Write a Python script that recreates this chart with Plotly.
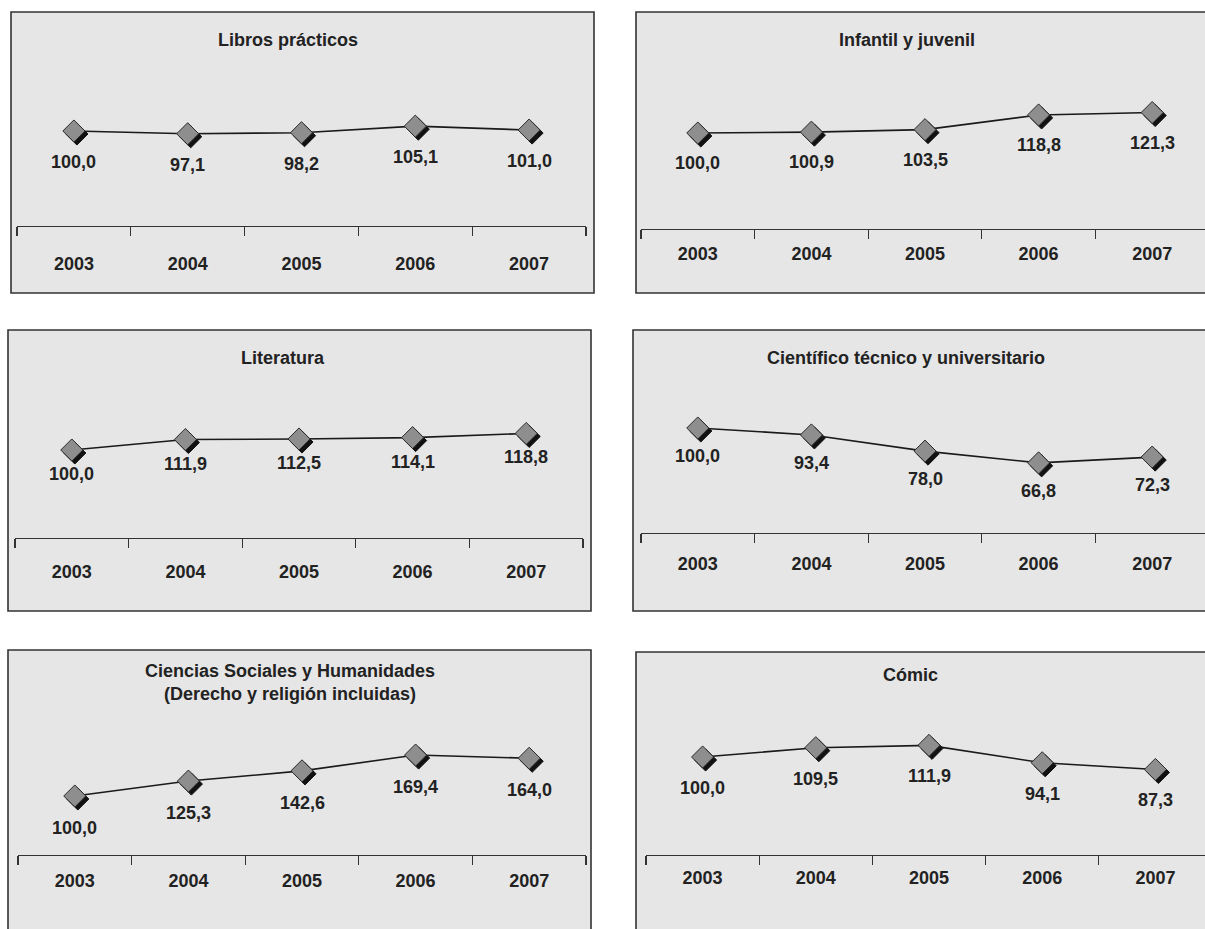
import plotly.graph_objects as go

# ---------------- data ----------------
years = ["2003", "2004", "2005", "2006", "2007"]
titles = [
    "Libros prácticos",
    "Infantil y juvenil",
    "Literatura",
    "Científico técnico y universitario",
    "Ciencias Sociales y Humanidades<br>(Derecho y religión incluidas)",
    "Cómic",
]
libros_practicos = [100.0, 97.1, 98.2, 105.1, 101.0]
infantil_juvenil = [100.0, 100.9, 103.5, 118.8, 121.3]
literatura = [100.0, 111.9, 112.5, 114.1, 118.8]
cientifico_tecnico = [100.0, 93.4, 78.0, 66.8, 72.3]
ciencias_sociales = [100.0, 125.3, 142.6, 169.4, 164.0]
comic = [100.0, 109.5, 111.9, 94.1, 87.3]
series = [libros_practicos, infantil_juvenil, literatura,
          cientifico_tecnico, ciencias_sociales, comic]

# ---------------- layout constants (page pixels) ----------------
W, H = 1205, 929
FONT = "Liberation Sans, Arial, Helvetica, sans-serif"
TXT = "#222222"
FS = 18
panels = [
    dict(box=(11, 12, 594, 293), xspan=(17, 586), base=226, ppu=0.95, ymax=160, title=(288, 40), std=21, lab=31),
    dict(box=(636, 12, 1230, 293), xspan=(641, 1209), base=229, ppu=0.96, ymax=160, title=(907, 40), std=8, lab=30),
    dict(box=(8, 330, 591, 611), xspan=(15, 583), base=538, ppu=0.88, ymax=160, title=(283, 358), std=17, lab=24),
    dict(box=(633, 330, 1230, 611), xspan=(641, 1209), base=533, ppu=1.05, ymax=120, title=(906, 358), std=14, lab=28),
    dict(box=(8, 650, 591, 950), xspan=(18, 586), base=855, ppu=0.59, ymax=200, title=(290, 682), std=9, lab=32),
    dict(box=(636, 652, 1230, 950), xspan=(646, 1212), base=855, ppu=0.98, ymax=140, title=(910, 675), std=6, lab=31),
]
SHADOW = (3, 3)


def fx(px):
    return px / W


def fy(py):
    return 1 - py / H


def aname(kind, n):
    return f"{kind}axis" if n == 1 else f"{kind}axis{n}"


def aref(kind, n):
    return kind if n == 1 else f"{kind}{n}"


hidden = dict(showline=False, showticklabels=False, showgrid=False,
              zeroline=False, ticks="", fixedrange=True)

fig = go.Figure()
layout = dict(
    width=W, height=H,
    margin=dict(l=0, r=0, t=0, b=0),
    paper_bgcolor="white",
    plot_bgcolor="rgba(0,0,0,0)",
    showlegend=False,
    shapes=[], annotations=[],
    font=dict(family=FONT, color=TXT),
)

for i, (p, vals, title) in enumerate(zip(panels, series, titles)):
    b = 2 * i + 1   # base axes: shadow markers (shifted)
    o = 2 * i + 2   # overlay axes: true mapping
    x0, x1 = p["xspan"]
    pxc = (x1 - x0) / len(years)
    xr1 = min(x1, W)
    dom_x = [fx(x0), fx(xr1)]
    ymax = p["ymax"]
    ytop = p["base"] - ymax * p["ppu"]
    dom_y = [fy(p["base"]), fy(ytop)]
    xr_true = [-0.5, -0.5 + (xr1 - x0) / pxc]
    yr_true = [0, ymax]
    dx, dy = SHADOW
    xr_sh = [xr_true[0] - dx / pxc, xr_true[1] - dx / pxc]
    yr_sh = [dy / p["ppu"], ymax + dy / p["ppu"]]

    # panel box
    bx0, by0, bx1, by1 = p["box"]
    layout["shapes"].append(dict(
        type="rect", xref="paper", yref="paper",
        x0=fx(bx0), x1=fx(bx1), y0=fy(by1), y1=fy(by0),
        fillcolor="#e6e6e6", line=dict(color="#333333", width=1.6), layer="below"))

    # axes
    layout[aname("x", b)] = dict(domain=dom_x, anchor=aref("y", b), range=xr_sh,
                                 type="category", categoryorder="array", categoryarray=years,
                                 **hidden)
    layout[aname("y", b)] = dict(domain=dom_y, anchor=aref("x", b), range=yr_sh, **hidden)
    layout[aname("x", o)] = dict(overlaying=aref("x", b), anchor=aref("y", o), range=xr_true,
                                 type="category", categoryorder="array", categoryarray=years,
                                 showline=True, linecolor="#333333", linewidth=1.3,
                                 ticks="outside", tickson="boundaries", ticklen=9,
                                 tickcolor="#333333", tickwidth=1.3,
                                 showgrid=False, zeroline=False,
                                 ticklabelstandoff=p["std"],
                                 tickfont=dict(family=FONT, size=FS, color=TXT, weight="bold"),
                                 fixedrange=True)
    layout[aname("y", o)] = dict(overlaying=aref("y", b), anchor=aref("x", o), range=yr_true,
                                 **hidden)

    # shadow of diamond markers
    fig.add_trace(go.Scatter(
        x=years, y=vals, mode="markers", cliponaxis=False,
        xaxis=aref("x", b), yaxis=aref("y", b), hoverinfo="skip",
        marker=dict(symbol="diamond", size=17, color="#111111",
                    line=dict(color="#111111", width=1))))
    # line with markers
    fig.add_trace(go.Scatter(
        x=years, y=vals, mode="lines+markers", cliponaxis=False,
        xaxis=aref("x", o), yaxis=aref("y", o),
        line=dict(color="#1a1a1a", width=1.6),
        marker=dict(symbol="diamond", size=17, color="#8e8e8e",
                    line=dict(color="#2a2a2a", width=1))))

    # data labels (category axis -> serial index)
    for j, v in enumerate(vals):
        layout["annotations"].append(dict(
            x=j, y=v, xref=aref("x", o), yref=aref("y", o),
            text=f"{v:.1f}".replace(".", ","), showarrow=False,
            yshift=-p["lab"], xanchor="center", yanchor="middle",
            font=dict(family=FONT, size=FS, color=TXT, weight="bold")))

    # title
    tx, ty = p["title"]
    layout["annotations"].append(dict(
        x=fx(tx), y=fy(ty), xref="paper", yref="paper", showarrow=False,
        text=title, xanchor="center", yanchor="middle", align="center",
        font=dict(family=FONT, size=FS, color=TXT, weight="bold")))

fig.update_layout(**layout)
fig.write_html("out.html",
               config={"displayModeBar": False, "staticPlot": True},
               post_script="document.body.style.margin='0';document.body.style.overflow='hidden';")
